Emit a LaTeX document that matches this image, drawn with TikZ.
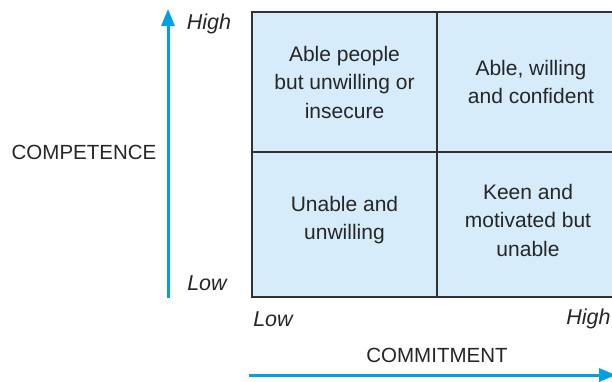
\documentclass[tikz,border=0pt]{standalone}
\usepackage{fontspec}
\setmainfont{Liberation Sans}
\usepackage{xcolor}
\usetikzlibrary{arrows.meta}
\definecolor{cellblue}{RGB}{214,236,250}
\definecolor{axiscyan}{RGB}{0,160,227}
\definecolor{gridline}{RGB}{50,50,50}
\tikzset{
  celltext/.style={align=center,font=\fontsize{21}{28.5}\selectfont,text=black!85},
  axislabel/.style={font=\fontsize{20.5}{24}\selectfont,text=black!85},
  scalelabel/.style={font=\fontsize{21.5}{24}\selectfont\itshape,text=black!85},
  axisarrow/.style={axiscyan,line width=3pt,-{Triangle[length=17pt,width=13pt]}}
}
\begin{document}
\begin{tikzpicture}[x=1pt,y=-1pt]
\useasboundingbox (0,0) rectangle (612,381);
\clip (0,0) rectangle (612,381);
\fill[cellblue] (252,12) rectangle (622,297);
\draw[gridline,line width=1.3pt] (252,12) rectangle (622,297);
\draw[gridline,line width=1.3pt] (437,12) -- (437,297);
\draw[gridline,line width=1.3pt] (252,152) -- (622,152);
\node[celltext] (lowhigh) at (344.5,82) {Able people\\but unwilling or\\insecure};
\node[celltext] (highhigh) at (531,82) {Able, willing\\and confident};
\node[celltext] (lowlow) at (344.5,220) {Unable and\\unwilling};
\node[celltext] (highlow) at (528,220) {Keen and\\motivated but\\unable};
% vertical axis
\coordinate (vstart) at (168,298);
\coordinate (vend) at (168,9);
\draw[axisarrow] (vstart) -- (vend);
\node[scalelabel] (vhigh) at (209,24) {High};
\node[scalelabel] (vlow) at (207,283) {Low};
\node[axislabel] (vtitle) at (84,152) {COMPETENCE};
% horizontal axis
\coordinate (hstart) at (249,375);
\coordinate (hend) at (616,375);
\draw[axisarrow] (hstart) -- (hend);
\node[scalelabel] (hlow) at (273,319) {Low};
\node[scalelabel,anchor=east] (hhigh) at (614,319) {High};
\node[axislabel] (htitle) at (437,355) {COMMITMENT};
\end{tikzpicture}
\end{document}
